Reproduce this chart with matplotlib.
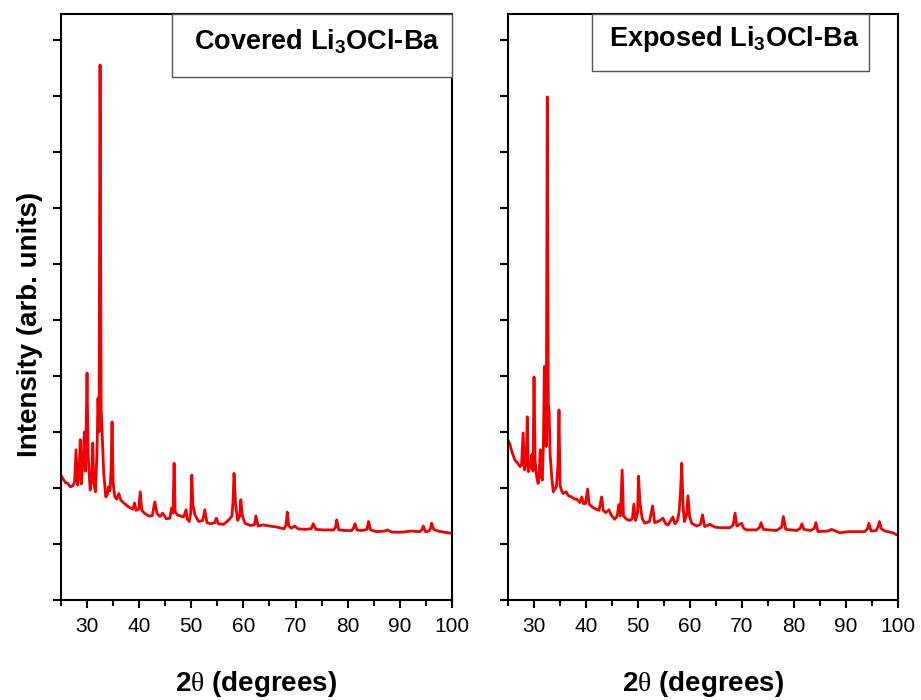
import numpy as np
import matplotlib
matplotlib.use('Agg')
from matplotlib import pyplot as plt
from matplotlib.patches import Rectangle
from matplotlib.ticker import MultipleLocator, NullFormatter

plt.rcParams.update({
    'font.family': ['Liberation Sans', 'DejaVu Sans'],
    'mathtext.fontset': 'custom',
    'mathtext.rm': 'Liberation Serif',
    'mathtext.bf': 'Liberation Sans:bold',
})

# XRD patterns (2theta in degrees, intensity in arb. units)
covered_2theta = [
    25.0, 25.3, 25.8, 26.3, 26.8, 27.3, 27.6, 27.9, 28.2, 28.5,
    28.7, 28.9, 29.2, 29.5, 29.7, 30.0, 30.2, 30.6, 30.9, 31.1,
    31.3, 31.6, 31.9, 32.1, 32.3, 32.5, 32.7, 32.9, 33.2, 33.6,
    33.9, 34.1, 34.4, 34.6, 34.8, 35.0, 35.3, 35.7, 36.1, 36.5,
    37.2, 38.0, 38.8, 39.1, 39.4, 39.9, 40.2, 40.5, 41.0, 41.8,
    42.5, 43.0, 43.4, 44.0, 44.5, 45.2, 45.9, 46.2, 46.5, 46.7,
    46.9, 47.3, 47.9, 48.5, 49.0, 49.2, 49.6, 49.9, 50.1, 50.3,
    50.7, 51.4, 52.2, 52.6, 53.0, 53.8, 54.5, 54.8, 55.2, 56.2,
    57.2, 57.8, 58.0, 58.2, 58.5, 58.9, 59.3, 59.5, 59.8, 60.3,
    61.3, 62.1, 62.4, 62.8, 63.8, 65.0, 66.5, 67.8, 68.2, 68.4,
    68.7, 69.2, 69.8, 70.5, 71.8, 73.0, 73.4, 73.9, 75.5, 77.3,
    77.7, 77.9, 78.3, 79.5, 80.8, 81.2, 81.4, 81.8, 82.8, 83.7,
    84.0, 84.4, 85.5, 87.2, 87.6, 88.5, 90.5, 92.1, 93.8, 94.3,
    94.5, 94.9, 95.6, 95.9, 96.1, 96.5, 97.3, 98.5, 100.0,
]
covered_int = [
    2.22, 2.18, 2.10, 2.08, 2.02, 2.04, 2.10, 2.68, 2.05, 2.30,
    2.86, 2.07, 2.45, 3.00, 2.30, 4.05, 2.60, 1.96, 2.20, 2.80,
    2.10, 1.93, 2.60, 3.60, 3.00, 9.55, 3.40, 2.98, 2.27, 1.84,
    1.88, 2.02, 1.95, 2.30, 3.18, 2.10, 1.85, 1.80, 1.90, 1.78,
    1.72, 1.66, 1.62, 1.73, 1.60, 1.62, 1.93, 1.60, 1.55, 1.50,
    1.50, 1.75, 1.55, 1.49, 1.55, 1.45, 1.46, 1.64, 1.55, 2.44,
    1.58, 1.52, 1.50, 1.48, 1.61, 1.45, 1.40, 1.55, 2.23, 1.70,
    1.52, 1.40, 1.42, 1.61, 1.38, 1.36, 1.38, 1.46, 1.36, 1.35,
    1.43, 1.50, 1.75, 2.26, 1.70, 1.42, 1.50, 1.79, 1.50, 1.37,
    1.33, 1.34, 1.50, 1.32, 1.34, 1.32, 1.30, 1.27, 1.35, 1.57,
    1.32, 1.28, 1.32, 1.27, 1.26, 1.27, 1.36, 1.26, 1.25, 1.25,
    1.30, 1.43, 1.25, 1.24, 1.24, 1.30, 1.36, 1.25, 1.24, 1.26,
    1.40, 1.25, 1.22, 1.23, 1.25, 1.21, 1.21, 1.23, 1.22, 1.26,
    1.32, 1.22, 1.23, 1.28, 1.37, 1.26, 1.23, 1.21, 1.19,
]

exposed_2theta = [
    25.0, 25.3, 25.7, 26.3, 26.8, 27.3, 27.6, 27.9, 28.2, 28.5,
    28.7, 28.9, 29.3, 29.6, 29.8, 30.0, 30.2, 30.5, 30.8, 31.0,
    31.2, 31.4, 31.6, 31.8, 32.0, 32.2, 32.35, 32.55, 32.75, 32.9,
    33.1, 33.4, 33.7, 34.0, 34.3, 34.6, 34.8, 35.0, 35.3, 35.6,
    36.2, 36.6, 37.2, 37.8, 38.2, 38.8, 39.2, 39.5, 39.9, 40.3,
    40.6, 41.2, 41.9, 42.5, 43.0, 43.3, 43.8, 44.4, 44.8, 45.5,
    46.0, 46.3, 46.6, 46.95, 47.2, 47.8, 48.4, 48.9, 49.2, 49.5,
    49.9, 50.1, 50.35, 50.8, 51.3, 52.2, 52.8, 53.2, 53.8, 54.2,
    54.8, 55.3, 55.8, 56.7, 57.1, 57.6, 57.9, 58.15, 58.4, 58.65,
    58.9, 59.3, 59.6, 59.9, 60.3, 61.3, 62.0, 62.4, 62.8, 63.8,
    64.8, 65.8, 67.7, 68.3, 68.65, 69.0, 69.9, 70.3, 70.9, 72.8,
    73.4, 73.65, 74.1, 76.6, 77.6, 77.95, 78.4, 80.5, 81.2, 81.5,
    81.9, 83.2, 83.9, 84.2, 84.6, 86.5, 87.2, 88.8, 90.5, 92.0,
    93.6, 94.1, 94.4, 94.8, 95.8, 96.2, 96.4, 96.8, 97.5, 99.0,
    100.0,
]
exposed_int = [
    2.85, 2.80, 2.66, 2.50, 2.45, 2.38, 2.40, 2.98, 2.32, 2.50,
    3.27, 2.29, 2.40, 2.60, 2.30, 3.98, 2.50, 2.20, 2.08, 2.30,
    2.68, 2.18, 2.14, 2.80, 4.17, 3.80, 2.74, 8.98, 3.50, 3.36,
    2.60, 2.20, 1.93, 1.98, 2.02, 2.40, 3.39, 2.05, 1.95, 1.90,
    1.93, 1.86, 1.84, 1.80, 1.80, 1.74, 1.84, 1.72, 1.72, 1.98,
    1.71, 1.66, 1.62, 1.60, 1.84, 1.60, 1.56, 1.61, 1.52, 1.44,
    1.50, 1.70, 1.50, 2.32, 1.50, 1.44, 1.42, 1.45, 1.71, 1.42,
    1.55, 2.21, 1.75, 1.45, 1.37, 1.40, 1.68, 1.38, 1.40, 1.42,
    1.46, 1.36, 1.34, 1.48, 1.36, 1.42, 1.58, 1.90, 2.44, 1.70,
    1.40, 1.50, 1.86, 1.50, 1.37, 1.32, 1.35, 1.52, 1.31, 1.35,
    1.30, 1.29, 1.29, 1.34, 1.55, 1.32, 1.37, 1.28, 1.25, 1.25,
    1.30, 1.38, 1.26, 1.24, 1.30, 1.49, 1.26, 1.24, 1.28, 1.36,
    1.26, 1.24, 1.28, 1.38, 1.22, 1.23, 1.26, 1.20, 1.22, 1.22,
    1.22, 1.27, 1.37, 1.23, 1.24, 1.32, 1.40, 1.27, 1.23, 1.20,
    1.15,
]

panel_titles = [r'Covered Li$_\mathbf{3}$OCl-Ba', r'Exposed Li$_\mathbf{3}$OCl-Ba']
xtick_values = [30, 40, 50, 60, 70, 80, 90, 100]

fig = plt.figure(figsize=(9.21, 7.0), dpi=100)
ax_cov = fig.add_axes([0.0662, 0.1429, 0.4245, 0.8371])
ax_exp = fig.add_axes([0.5516, 0.1429, 0.4235, 0.8371])

ax_cov.plot(covered_2theta, covered_int, color='#f00000', linewidth=2.0)
ax_exp.plot(exposed_2theta, exposed_int, color='#f00000', linewidth=2.0)

# title boxes (left, bottom, right, text centre) in axes fraction
boxes = [(0.284, 0.8925, 1.0, 0.655), (0.215, 0.9027, 0.926, 0.58)]

for ax, title, (bx0, by0, bx1, tx) in zip([ax_cov, ax_exp], panel_titles, boxes):
    ax.set_xlim(25, 100)
    ax.set_ylim(0, 10.46)
    ax.set_xticks(xtick_values)
    ax.xaxis.set_minor_locator(MultipleLocator(5))
    ax.yaxis.set_major_locator(MultipleLocator(1))
    ax.yaxis.set_major_formatter(NullFormatter())
    ax.tick_params(axis='x', which='major', direction='out', length=6,
                   width=1.5, pad=6, labelsize=15)
    ax.tick_params(axis='x', which='minor', direction='out', length=4, width=1.5)
    ax.tick_params(axis='y', which='major', direction='out', length=6, width=1.5)
    for sp in ax.spines.values():
        sp.set_linewidth(1.5)
    ax.add_patch(Rectangle((bx0, by0), bx1 - bx0, 1.0 - by0, transform=ax.transAxes,
                           facecolor='white', edgecolor='#555555', linewidth=1.0,
                           zorder=3, clip_on=False))
    ax.text(tx, (1.0 + by0) / 2 + 0.006, title, transform=ax.transAxes,
            ha='center', va='center', fontsize=19.5, fontweight='bold', zorder=4)
    ax.set_xlabel(r'2$\mathrm{\theta}$ (degrees)', fontsize=20, fontweight='bold',
                  labelpad=24)

ax_cov.set_ylabel('Intensity (arb. units)', fontsize=20, fontweight='bold', labelpad=8)
ax_cov.yaxis.set_label_coords(-0.045, 0.47)

fig.savefig('out.png', dpi=100)
